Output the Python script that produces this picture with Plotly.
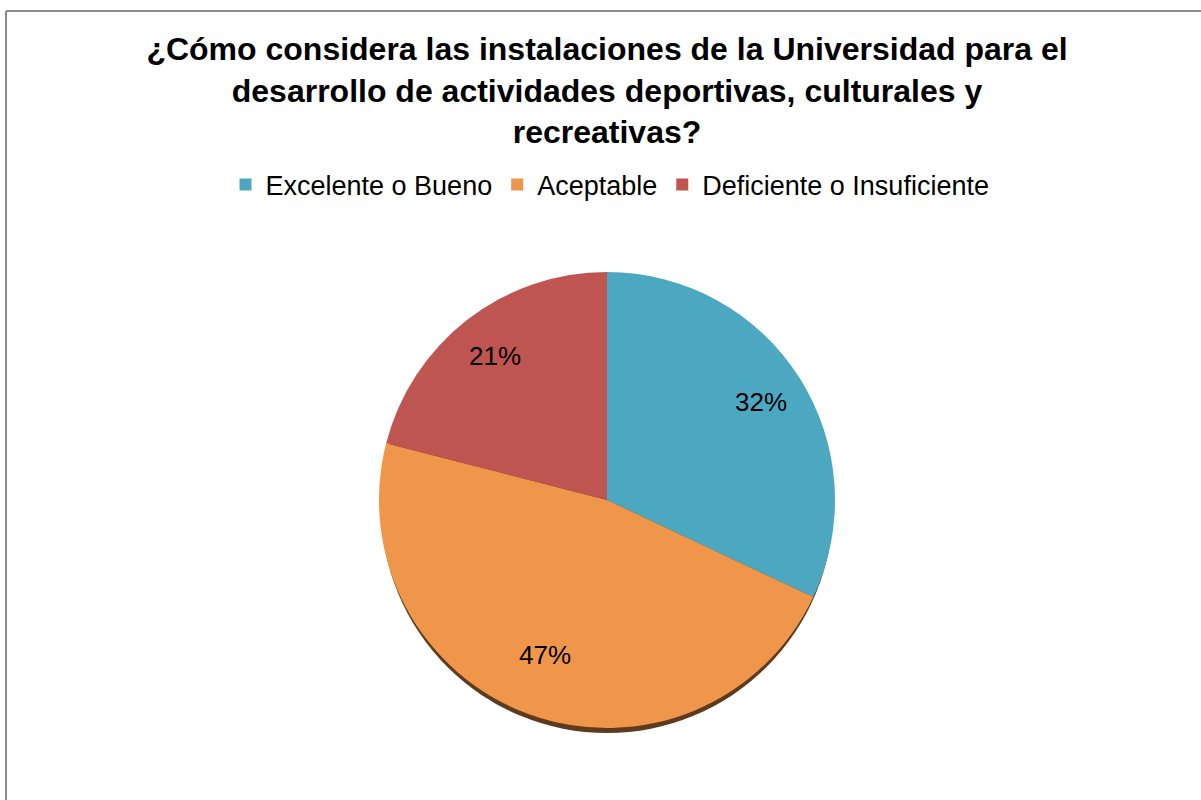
"""Pie chart: perception of university facilities for sport, culture and recreation."""

import math

import plotly.graph_objects as go

TITLE_LINES = [
    "¿Cómo considera las instalaciones de la Universidad para el",
    "desarrollo de actividades deportivas, culturales y",
    "recreativas?",
]
CATEGORIES = ["Excelente o Bueno", "Aceptable", "Deficiente o Insuficiente"]
SHARES = [32, 47, 21]
COLORS = ["#4CA8C1", "#F0964A", "#BE5551"]

WIDTH, HEIGHT = 1201, 800
FONT = "Liberation Sans, Arial, sans-serif"

# pie placement in pixels (centre and radius)
CX, CY, R = 607, 500, 228
SHADOW_DROP = 7
LABEL_RADIUS = 0.8  # spreadsheet puts the percentages well out towards the rim


def px_domain(cx, cy, r):
    return dict(
        x=[(cx - r) / WIDTH, (cx + r) / WIDTH],
        y=[1 - (cy + r) / HEIGHT, 1 - (cy - r) / HEIGHT],
    )


def percent_labels():
    """Place each percentage on its slice's mid-angle (clockwise from 12 o'clock)."""
    total = sum(SHARES)
    notes = []
    start = 0.0
    for share in SHARES:
        mid = (start + share / 2) / total * 2 * math.pi
        start += share
        x = CX + LABEL_RADIUS * R * math.sin(mid)
        y = CY - LABEL_RADIUS * R * math.cos(mid)
        notes.append(
            dict(
                text=f"{round(100 * share / total)}%",
                x=x / WIDTH,
                y=1 - y / HEIGHT,
                xref="paper",
                yref="paper",
                showarrow=False,
                font=dict(family=FONT, size=26, color="black"),
            )
        )
    return notes


fig = go.Figure()

# dark rim under the pie, like the spreadsheet's 3-D edge
fig.add_trace(
    go.Pie(
        values=[1],
        labels=["shadow"],
        marker=dict(colors=["#5E3B1C"], line=dict(width=0)),
        domain=px_domain(CX, CY + SHADOW_DROP, R - 2),
        textinfo="none",
        hoverinfo="skip",
        showlegend=False,
        sort=False,
    )
)

fig.add_trace(
    go.Pie(
        labels=CATEGORIES,
        values=SHARES,
        marker=dict(colors=COLORS, line=dict(width=0)),
        domain=px_domain(CX, CY, R),
        sort=False,
        direction="clockwise",
        rotation=0,
        textinfo="none",
        hovertemplate="%{label}: %{percent:.0%}<extra></extra>",
    )
)

fig.update_layout(
    width=WIDTH,
    height=HEIGHT,
    margin=dict(l=0, r=0, t=0, b=0),
    paper_bgcolor="white",
    plot_bgcolor="white",
    font=dict(family=FONT, color="black"),
    title=dict(
        text="<br>".join(TITLE_LINES),
        font=dict(family=FONT, size=32, color="black", weight="bold"),
        x=607 / WIDTH,
        xanchor="center",
        y=1 - 60 / HEIGHT,
        yanchor="middle",
        xref="container",
        yref="container",
    ),
    legend=dict(
        orientation="h",
        x=610 / WIDTH,
        xanchor="center",
        y=1 - 185 / HEIGHT,
        yanchor="middle",
        font=dict(family=FONT, size=27, color="black"),
        bgcolor="rgba(0,0,0,0)",
    ),
    annotations=percent_labels(),
    shapes=[
        dict(type="line", xref="paper", yref="paper",
             x0=6 / WIDTH, x1=1, y0=1 - 11 / HEIGHT, y1=1 - 11 / HEIGHT,
             line=dict(color="#8C8C8C", width=2)),
        dict(type="line", xref="paper", yref="paper",
             x0=6 / WIDTH, x1=6 / WIDTH, y0=0, y1=1 - 11 / HEIGHT,
             line=dict(color="#8C8C8C", width=2)),
    ],
)

fig.write_html(
    "out.html",
    config={"displayModeBar": False},
    post_script="document.body.style.margin='0';",
)
